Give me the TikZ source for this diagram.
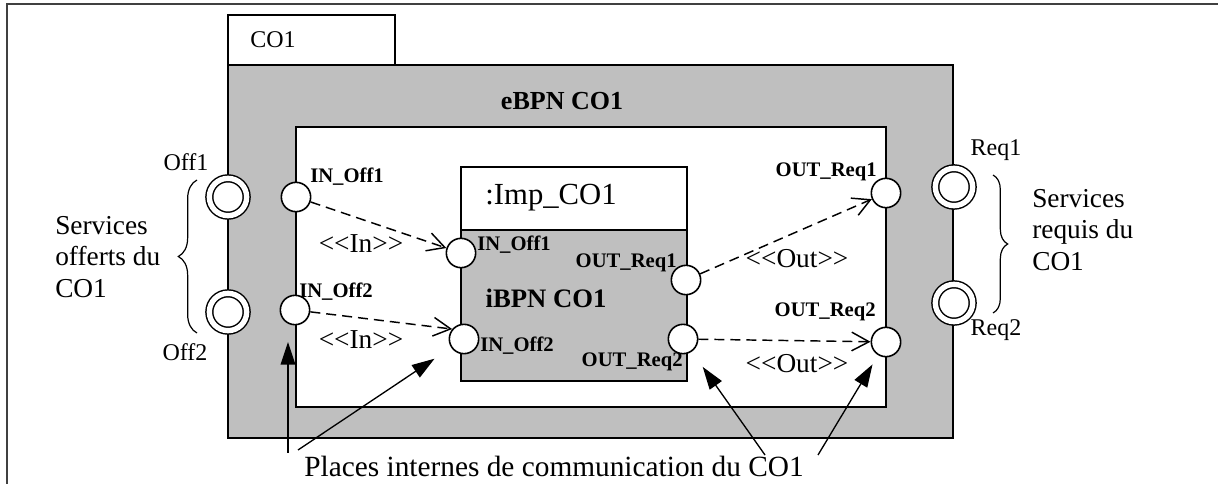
\documentclass[tikz,border=0pt]{standalone}
\usepackage{fontspec}
\setmainfont{Liberation Serif}
\usepackage{tikz}
\usetikzlibrary{arrows.meta,positioning,decorations.pathreplacing,calc}

\tikzset{
  port/.style={circle, draw, fill=white, line width=1.2pt, minimum size=22pt, inner sep=0pt},
  dport/.style={circle, draw, fill=white, line width=1.1pt, double, double distance=4pt, minimum size=28pt, inner sep=0pt},
  plbl/.style={font=\fontsize{15.5}{17}\selectfont\bfseries, inner sep=0pt},
  txt/.style={font=\fontsize{18}{20}\selectfont, inner sep=0pt},
  big/.style={font=\fontsize{20.5}{23.5}\selectfont, inner sep=0pt, align=left},
  flow/.style={dash pattern=on 7.5pt off 4.5pt, line width=1.1pt, -{Straight Barb[length=13pt,width=14pt,line width=1.1pt]}},
  pointer/.style={line width=1pt, -{Triangle[length=17pt,width=11pt]}},
}

\begin{document}
\begin{tikzpicture}[x=0.75pt,y=-0.75pt]
\useasboundingbox (0,0) rectangle (1218,484);
% frame
\draw[line width=1.3pt, black!75] (7,484) -- (7,4) -- (1218,4);

% component CO1
\draw[line width=1.4pt] (228,15) rectangle (395,65);
\node[txt, anchor=west] (tab) at (250,40) {CO1};
\draw[line width=1.5pt, fill=black!25] (228,65) rectangle (953,438);
\draw[line width=1.5pt, fill=white] (296,127) rectangle (886,407);
\node[font=\fontsize{19.5}{21}\selectfont\bfseries] (ebpn) at (562,101) {eBPN CO1};

% implementation
\draw[line width=2.2pt, fill=white] (461,167) rectangle (687,230);
\draw[line width=2.2pt, fill=black!25] (461,230) rectangle (687,381);
\node[font=\fontsize{23}{25}\selectfont] (imp) at (551,198) {:Imp\_CO1};
\node[font=\fontsize{20}{22}\selectfont\bfseries] (ibpn) at (546,298) {iBPN CO1};

% services
\node[dport] (off1) at (228,197) {};
\node[dport] (off2) at (228,312) {};
\node[dport] (req1) at (954,187) {};
\node[dport] (req2) at (954,303) {};
\node[txt] at (186,162) {Off1};
\node[txt] at (185,352) {Off2};
\node[txt] at (996,150) {Req1};
\node[txt] at (996,330) {Req2};

% places
\node[port] (eoff1) at (296,197) {};
\node[port] (eoff2) at (295,310) {};
\node[port] (ereq1) at (886,193) {};
\node[port] (ereq2) at (886,342) {};
\node[port] (ioff1) at (461,253) {};
\node[port] (ioff2) at (464,339) {};
\node[port] (ireq1) at (686,280) {};
\node[port] (ireq2) at (683,339) {};

\node[plbl, anchor=west] at (310,177) {IN\_Off1};
\node[plbl, anchor=west] at (299,292) {IN\_Off2};
\node[plbl, anchor=west] at (477,245) {IN\_Off1};
\node[plbl, anchor=west] at (480,346) {IN\_Off2};
\node[plbl, anchor=east] at (677,263) {OUT\_Req1};
\node[plbl, anchor=east] at (683,362) {OUT\_Req2};
\node[plbl, anchor=east] at (877,172) {OUT\_Req1};
\node[plbl, anchor=east] at (876,312) {OUT\_Req2};

% flows
\draw[flow] (eoff1) -- (ioff1);
\draw[flow] (eoff2) -- (ioff2.140);
\draw[flow] (ireq1) -- (ereq1);
\draw[flow] (ireq2) -- (ereq2);
\node[big] at (361,244) {<\kern0pt<In>\kern0pt>};
\node[big] at (361,340) {<\kern0pt<In>\kern0pt>};
\node[big] at (797,259) {<\kern0pt<Out>\kern0pt>};
\node[big] at (797,364) {<\kern0pt<Out>\kern0pt>};

% braces
\draw[line width=0.9pt, decorate, decoration={brace, amplitude=14pt}] (197,333) -- (197,180);
\draw[line width=0.9pt, decorate, decoration={brace, amplitude=11pt}] (993,175) -- (993,313);
\node[big, anchor=west] (offerts) at (55,257) {Services\\offerts du\\CO1};
\node[big, anchor=west] (requis) at (1032,230) {Services\\requis du\\CO1};

% communication places
\node[font=\fontsize{22}{24}\selectfont] (places) at (554,466) {Places internes de communication du CO1};
\coordinate (t1) at (288,453);
\coordinate (t2) at (298,450);
\coordinate (t3) at (765,455);
\coordinate (t4) at (818,455);
\draw[pointer, shorten >=24pt] (t1) -- (t1 |- eoff2);
\draw[pointer, shorten >=15pt] (t2) -- (ioff2);
\draw[pointer, shorten >=14pt] (t3) -- (ireq2);
\draw[pointer, shorten >=8pt] (t4) -- (ereq2);
\end{tikzpicture}
\end{document}
